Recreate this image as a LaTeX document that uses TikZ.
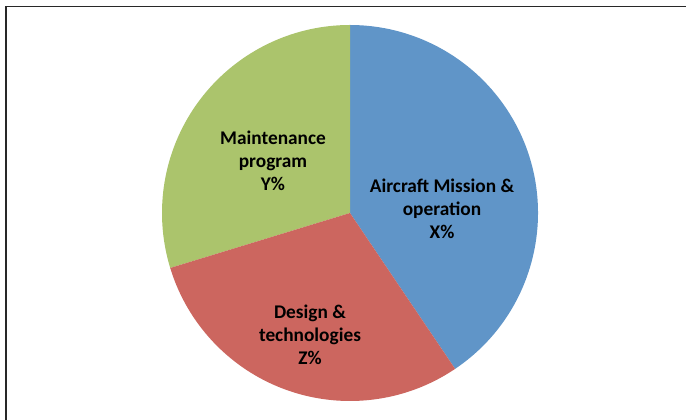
\documentclass[tikz,border=0pt]{standalone}
\usepackage{fontspec}
\setsansfont{Carlito}
\usepackage{xcolor}
\usepackage{tikz}
\usetikzlibrary{positioning}

\definecolor{pieblue}{RGB}{96,149,200}
\definecolor{piegreen}{RGB}{171,196,108}
\definecolor{piered}{RGB}{204,102,95}
\definecolor{framegray}{RGB}{40,40,40}

\tikzset{
	slicelabel/.style={align=center, text=black, inner sep=0pt,
		font=\sffamily\bfseries\fontsize{16.5}{19.6}\selectfont},
}

\begin{document}
\begin{tikzpicture}[x=0.03cm,y=0.03cm]
	\useasboundingbox (0,0) rectangle (686,420);
	\fill[white] (0,0) rectangle (686,420);
	\coordinate (centre) at (350,207);
	\foreach \a/\b/\c in {-56/90/pieblue, 90/197/piegreen, 197/304/piered}
		\fill[\c] (centre) -- ++(\a:188) arc[start angle=\a, end angle=\b, radius=188] -- cycle;
	\node[slicelabel] (mission) at (442,211) {Aircraft Mission \&\\operation\\X\%};
	\node[slicelabel] (maint) at (273,259) {Maintenance\\program\\Y\%};
	\node[slicelabel] (design) at (310,85.5) {Design \&\\technologies\\Z\%};
	\draw[framegray, line width=1.3pt] (6,0) -- (6,413.5) -- (686,413.5);
\end{tikzpicture}
\end{document}
